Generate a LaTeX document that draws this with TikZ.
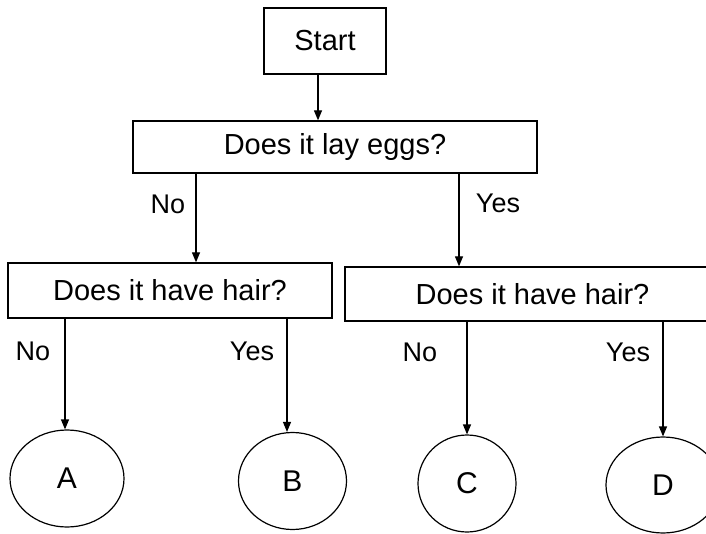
\documentclass[tikz,border=0pt]{standalone}
\usepackage{fontspec}
\setmainfont{Liberation Sans}
\usetikzlibrary{arrows.meta,shapes.geometric}
\begin{document}
\begin{tikzpicture}[x=1pt,y=-1pt,
  every node/.style={font=\fontsize{29}{34}\selectfont},
  box/.style={draw,line width=1.3pt,inner sep=0pt},
  leaf/.style={draw,ellipse,line width=1.2pt,inner sep=0pt,font=\fontsize{30}{34}\selectfont},
  lbl/.style={inner sep=0pt,font=\fontsize{27}{32}\selectfont},
  arr/.style={line width=1.2pt,-{Triangle[length=10pt,width=8pt]}}]
\clip (0,0) rectangle (706,534);
\fill[white] (0,0) rectangle (706,534);

% decision boxes
\node[box,minimum width=122pt,minimum height=66pt] (start) at (325,41) {Start};
\node[box,minimum width=404pt,minimum height=52pt] (eggs) at (335,147) {Does it lay eggs?};
\node[box,minimum width=324pt,minimum height=55pt] (hairL) at (170,290.5) {Does it have hair?};
\node[box,minimum width=375pt,minimum height=54pt] (hairR) at (532.5,294) {Does it have hair?};

% outcomes
\node[leaf,minimum width=114pt,minimum height=97pt] (A) at (67,478.5) {A};
\node[leaf,minimum width=108pt,minimum height=97pt] (B) at (292.5,481) {B};
\node[leaf,minimum width=98pt,minimum height=97pt] (C) at (467,483.5) {C};
\node[leaf,minimum width=114pt,minimum height=96pt] (D) at (663,485) {D};

% connectors
\draw[arr] ([xshift=-7pt]start.south) -- ([xshift=-7pt]start.south |- eggs.north);
\draw[arr] ([xshift=-139pt]eggs.south) -- ([xshift=-139pt]eggs.south |- hairL.north);
\draw[arr] ([xshift=124pt]eggs.south) -- ([xshift=124pt]eggs.south |- hairR.north);
\draw[arr] ([xshift=-105pt]hairL.south) -- ([xshift=-105pt]hairL.south |- A.north);
\draw[arr] ([xshift=117pt]hairL.south) -- ([xshift=117pt]hairL.south |- B.north);
\draw[arr] ([xshift=-65.5pt]hairR.south) -- ([xshift=-65.5pt]hairR.south |- C.north);
\draw[arr] ([xshift=130.5pt]hairR.south) -- ([xshift=130.5pt]hairR.south |- D.north);

% branch labels
\node[lbl] (l1) at (168,204) {No};
\node[lbl] (l2) at (498,203) {Yes};
\node[lbl] (l3) at (33,351) {No};
\node[lbl] (l4) at (252,351) {Yes};
\node[lbl] (l5) at (420,352) {No};
\node[lbl] (l6) at (628,352) {Yes};
\end{tikzpicture}
\end{document}
